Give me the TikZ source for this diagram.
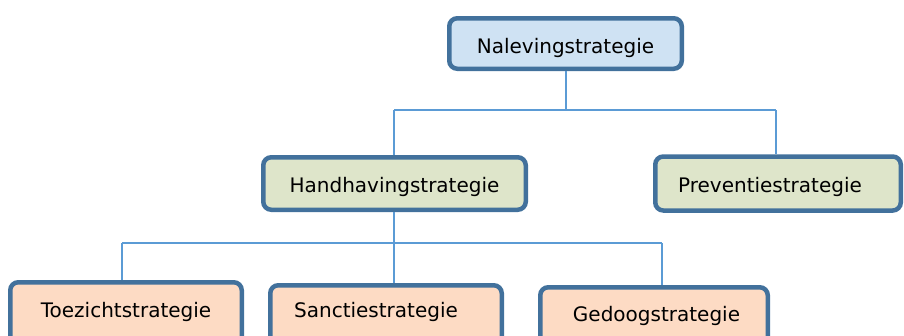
\documentclass[tikz,border=0pt]{standalone}
\usepackage{fontspec}
\setmainfont{DejaVu Sans}
\definecolor{edge}{RGB}{66,113,156}
\definecolor{conn}{RGB}{91,155,213}
\definecolor{fblue}{RGB}{207,226,243}
\definecolor{fgreen}{RGB}{222,229,202}
\definecolor{fpeach}{RGB}{253,219,196}
\newcommand{\boxtxt}[2]{\raisebox{#1}[\height][\depth]{#2}}
\tikzset{
  box/.style={draw=edge, line width=4.5pt, rounded corners=8pt, inner sep=0pt,
    font=\fontsize{20}{24}\selectfont, text=black},
  link/.style={draw=conn, line width=1.5pt}
}
\begin{document}
\begin{tikzpicture}[x=1pt,y=-1pt]
\useasboundingbox (0,0) rectangle (904,335);
\clip (0,0) rectangle (904,335);
\node[box, fill=fblue, minimum width=232.5pt, minimum height=50.5pt] (nal) at (565.5,43.5) {\boxtxt{-4pt}{Nalevingstrategie}};
\node[box, fill=fgreen, minimum width=262.5pt, minimum height=52.5pt] (hand) at (394.5,183.5) {\boxtxt{-3pt}{Handhavingstrategie}};
\node[box, fill=fgreen, minimum width=245.5pt, minimum height=54pt] (prev) at (778,183.5) {\hspace*{-16pt}\boxtxt{-3pt}{Preventiestrategie}};
\node[box, fill=fpeach, minimum width=231.5pt, minimum height=62pt] (toez) at (126,313.25) {\boxtxt{1.25pt}{Toezichtstrategie}};
\node[box, fill=fpeach, minimum width=231.5pt, minimum height=62pt] (sanc) at (386,316.25) {\hspace*{-20pt}\boxtxt{4.25pt}{Sanctiestrategie}};
\node[box, fill=fpeach, minimum width=227.5pt, minimum height=62pt] (gedo) at (654,318.25) {\hspace*{5pt}\boxtxt{2.75pt}{Gedoogstrategie}};
\coordinate (j1) at (566,110);
\coordinate (a1) at (394,110);
\coordinate (a2) at (776,110);
\coordinate (j2) at (394,243);
\coordinate (b1) at (122,243);
\coordinate (b2) at (394,243);
\coordinate (b3) at (662,243);
\draw[link] (nal.south -| j1) -- (j1);
\draw[link] (a1) -- (a2);
\draw[link] (a1) -- (a1 |- hand.north);
\draw[link] (a2) -- (a2 |- prev.north);
\draw[link] (hand.south -| j2) -- (j2);
\draw[link] (b1) -- (b3);
\draw[link] (b1) -- (b1 |- toez.north);
\draw[link] (b2) -- (b2 |- sanc.north);
\draw[link] (b3) -- (b3 |- gedo.north);
\end{tikzpicture}
\end{document}
